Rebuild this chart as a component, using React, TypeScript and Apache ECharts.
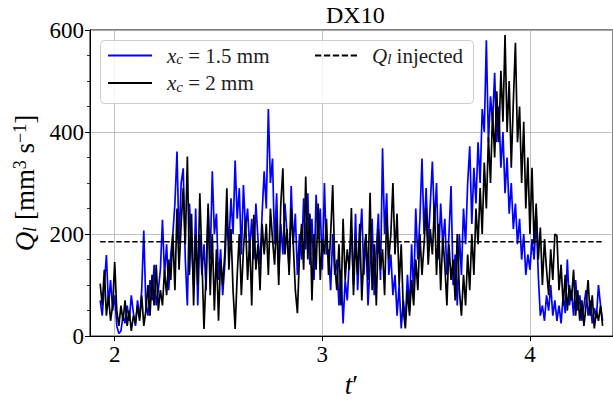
import React, { useEffect, useRef } from "react";
import * as echarts from "echarts";

// sampling grid of the two records (t')
const tStart = 1.93;
const tStep = 0.01;

// Q_l for x_c = 1.5 mm (blue)
const blueQ = [
  70, 40, 100, 159, 60, 110, 50, 80, 20, 5,
  10, 40, 25, 60, 30, 80, 45, 20, 70, 35,
  90, 207, 60, 40, 110, 70, 140, 60, 90, 130,
  228, 120, 180, 90, 160, 200, 260, 362, 180, 300,
  329, 150, 60, 260, 180, 100, 250, 60, 200, 120,
  180, 90, 250, 150, 323, 200, 240, 110, 170, 80,
  140, 230, 180, 270, 200, 344, 230, 290, 160, 296,
  210, 250, 170, 230, 150, 260, 190, 140, 240, 323,
  250, 445, 300, 348, 180, 280, 120, 220, 160, 260,
  200, 130, 294, 180, 240, 120, 200, 150, 270, 170,
  280, 140, 230, 110, 277, 190, 250, 130, 300, 160,
  170, 90, 200, 120, 150, 60, 130, 25, 110, 70,
  150, 210, 100, 240, 90, 180, 250, 120, 200, 60,
  140, 230, 80, 170, 240, 110, 368, 200, 280, 120,
  160, 80, 120, 40, 100, 15, 70, 30, 120, 50,
  180, 80, 250, 150, 230, 348, 200, 290, 180, 260,
  342, 220, 300, 150, 260, 180, 230, 120, 200, 294,
  100, 160, 60, 200, 120, 250, 180, 300, 372, 220,
  330, 260, 380, 300, 445, 400, 580, 380, 470, 420,
  516, 380, 450, 330, 400, 280, 350, 240, 300, 210,
  260, 180, 230, 150, 200, 120, 160, 130, 190, 150,
  236, 120, 40, 60, 30, 80, 50, 100, 40, 70,
  30, 60, 25, 80, 45, 150, 60, 90, 40, 110,
  50, 80, 30, 60, 90, 40, 70, 25, 55, 35,
  100, 60, 30,
];

// Q_l for x_c = 2 mm (black)
const blackQ = [
  103, 60, 130, 40, 80, 30, 60, 145, 50, 20,
  60, 30, 70, 20, 50, 10, 40, 25, 60, 30,
  80, 20, 50, 100, 40, 120, 60, 140, 50, 90,
  60, 130, 80, 150, 110, 200, 90, 250, 130, 220,
  290, 180, 352, 120, 240, 60, 200, 100, 280, 150,
  14, 120, 260, 80, 200, 50, 170, 30, 150, 100,
  160, 290, 130, 210, 90, 14, 120, 200, 80, 170,
  230, 110, 190, 60, 238, 130, 180, 90, 220, 160,
  220, 120, 250, 190, 140, 230, 100, 260, 329, 160,
  210, 120, 250, 180, 90, 45, 160, 220, 130, 313,
  150, 240, 70, 200, 130, 260, 110, 190, 160, 230,
  120, 200, 296, 140, 90, 180, 60, 230, 110, 170,
  130, 251, 80, 190, 120, 220, 70, 160, 200, 110,
  281, 90, 180, 60, 210, 130, 170, 80, 240, 150,
  200, 300, 160, 240, 100, 180, 50, 15, 90, 40,
  110, 60, 150, 90, 200, 120, 180, 250, 140, 210,
  160, 257, 120, 220, 90, 193, 140, 60, 180, 110,
  150, 70, 200, 90, 40, 120, 60, 160, 90, 200,
  120, 250, 180, 290, 200, 340, 250, 390, 300, 440,
  350, 480, 380, 520, 420, 590, 400, 500, 330, 460,
  575, 380, 450, 300, 420, 250, 350, 200, 330, 180,
  260, 150, 213, 100, 190, 130, 80, 170, 110, 200,
  197, 90, 140, 60, 120, 50, 100, 70, 130, 40,
  90, 30, 70, 20, 60, 110, 40, 80, 15, 50,
  30, 60, 20,
];

// injected flow rate (dashed reference)
const injectedQ = 185;
const injectedT = [1.93, 4.35];

const xRange = [1.881, 4.4];
const yTicks = [0, 200, 400, 600];

const SERIF = "Liberation Serif";

const NAME_15 = "xc15";
const NAME_2 = "xc2";
const NAME_INJ = "inj";

const toPairs = (vals: number[]) =>
  vals.map((v, i) => [Number((tStart + i * tStep).toFixed(4)), v]);

export default function App() {
  const ref = useRef<HTMLDivElement>(null);

  useEffect(() => {
    if (!ref.current) return;
    const chart = echarts.init(ref.current, null, { renderer: "svg" });

    const legendRich = {
      sp: { width: 10, fontFamily: SERIF },
      it: { fontFamily: SERIF, fontStyle: "italic", fontSize: 21, lineHeight: 22, color: "#222" },
      sub: { fontFamily: SERIF, fontStyle: "italic", fontSize: 15, lineHeight: 10, verticalAlign: "bottom", color: "#222" },
      rm: { fontFamily: SERIF, fontSize: 21, lineHeight: 22, color: "#222" },
    };
    const legendLabel = (name: string) => {
      if (name === NAME_15) return "{sp|}{it|x}{sub|c}{rm| = 1.5 mm}";
      if (name === NAME_2) return "{sp|}{it|x}{sub|c}{rm| = 2 mm}";
      return "{sp|}{it|Q}{sub|l}{rm| injected}";
    };
    const solidIcon = "path://M0,0h44v2h-44z";
    const dashIcon =
      "path://M0,0h6v2h-6z M8.5,0h6v2h-6z M17,0h6v2h-6z M25.5,0h6v2h-6z M34,0h6v2h-6z";

    const option = {
      animation: false,
      backgroundColor: "#ffffff",
      textStyle: { fontFamily: SERIF, color: "#000" },
      title: {
        text: "DX10",
        left: 326,
        top: 3,
        padding: 0,
        textStyle: { fontFamily: SERIF, fontSize: 24, fontWeight: "normal", color: "#000" },
      },
      grid: {
        left: 90,
        top: 30,
        bottom: 63,
        right: -8,
        show: true,
        borderColor: "#000",
        borderWidth: 1,
        backgroundColor: "transparent",
      },
      graphic: [
        {
          type: "rect",
          z: 3,
          shape: { x: 100.5, y: 40.5, width: 373, height: 63, r: 4 },
          style: { fill: "rgba(255,255,255,0.8)", stroke: "#cccccc", lineWidth: 1 },
        },
      ],
      legend: [
        {
          orient: "vertical",
          left: 108,
          top: 45,
          padding: 0,
          itemGap: 6,
          itemWidth: 44,
          itemHeight: 2,
          symbolKeepAspect: false,
          selectedMode: false,
          z: 5,
          itemStyle: { borderWidth: 0 },
          data: [
            { name: NAME_15, icon: solidIcon },
            { name: NAME_2, icon: solidIcon },
          ],
          formatter: legendLabel,
          textStyle: { fontFamily: SERIF, fontSize: 21, color: "#222", rich: legendRich },
        },
        {
          orient: "vertical",
          left: 315,
          top: 45,
          padding: 0,
          itemWidth: 42,
          itemHeight: 2,
          symbolKeepAspect: false,
          selectedMode: false,
          z: 5,
          itemStyle: { borderWidth: 0 },
          data: [{ name: NAME_INJ, icon: dashIcon }],
          formatter: legendLabel,
          textStyle: { fontFamily: SERIF, fontSize: 21, color: "#222", rich: legendRich },
        },
      ],
      xAxis: {
        type: "value",
        min: xRange[0],
        max: xRange[1],
        splitNumber: 2,
        name: "{it|t}{rm|′}",
        nameLocation: "middle",
        nameGap: 24,
        nameTextStyle: {
          fontFamily: SERIF,
          fontSize: 27,
          color: "#000",
          rich: {
            it: { fontFamily: SERIF, fontStyle: "italic", fontSize: 27, color: "#000" },
            rm: { fontFamily: SERIF, fontSize: 27, color: "#000" },
          },
        },
        axisLine: { onZero: false, lineStyle: { color: "#000", width: 1 } },
        axisTick: { length: 5, lineStyle: { color: "#000", width: 1 } },
        axisLabel: {
          fontFamily: SERIF,
          fontSize: 23,
          color: "#000",
          margin: 7,
          showMinLabel: false,
          showMaxLabel: false,
          formatter: (v: number) =>
            Math.abs(v - Math.round(v)) < 1e-6 ? String(Math.round(v)) : "",
        },
        splitLine: { show: true, lineStyle: { color: "#b0b0b0", width: 0.8 } },
      },
      yAxis: {
        type: "value",
        min: yTicks[0],
        max: yTicks[yTicks.length - 1],
        interval: yTicks[1] - yTicks[0],
        name: "{it|Q}{sub|l}{rm| [mm}{sup|3}{rm| s}{sup|−1}{rm|]}",
        nameLocation: "middle",
        nameRotate: 90,
        nameGap: 47,
        nameTextStyle: {
          fontFamily: SERIF,
          fontSize: 27,
          color: "#000",
          rich: {
            it: { fontFamily: SERIF, fontStyle: "italic", fontSize: 27, lineHeight: 28, color: "#000" },
            sub: { fontFamily: SERIF, fontStyle: "italic", fontSize: 18, lineHeight: 12, verticalAlign: "bottom", color: "#000" },
            rm: { fontFamily: SERIF, fontSize: 27, lineHeight: 28, color: "#000" },
            sup: { fontFamily: SERIF, fontSize: 18, lineHeight: 12, verticalAlign: "top", color: "#000" },
          },
        },
        axisLine: { show: true, onZero: false, lineStyle: { color: "#000", width: 1 } },
        axisTick: { show: true, length: 5, lineStyle: { color: "#000", width: 1 } },
        minorTick: { show: true, splitNumber: 4, length: 3, lineStyle: { color: "#000", width: 0.8 } },
        axisLabel: { fontFamily: SERIF, fontSize: 23, color: "#000", margin: 6 },
        splitLine: { show: true, lineStyle: { color: "#b0b0b0", width: 0.8 } },
      },
      series: [
        {
          name: NAME_15,
          type: "line",
          data: toPairs(blueQ),
          showSymbol: false,
          symbol: "none",
          color: "#0000ff",
          lineStyle: { color: "#0000ff", width: 1.7 },
          z: 2,
        },
        {
          name: NAME_2,
          type: "line",
          data: toPairs(blackQ),
          showSymbol: false,
          symbol: "none",
          color: "#000000",
          lineStyle: { color: "#000000", width: 1.7 },
          z: 2,
        },
        {
          name: NAME_INJ,
          type: "line",
          data: [
            [injectedT[0], injectedQ],
            [injectedT[1], injectedQ],
          ],
          showSymbol: false,
          symbol: "none",
          color: "#000000",
          lineStyle: { color: "#000000", width: 1.6, type: [5.5, 2.5] },
          z: 2,
        },
      ],
    };

    chart.setOption(option as any);
    return () => chart.dispose();
  }, []);

  return (
    <div
      ref={ref}
      style={{ position: "fixed", left: 0, top: 0, width: 613, height: 403, background: "#fff" }}
    />
  );
}
